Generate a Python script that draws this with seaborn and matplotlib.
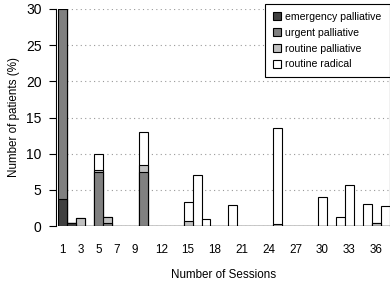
import numpy as np
import pandas as pd
import matplotlib
matplotlib.use("Agg")
import matplotlib.pyplot as plt
from matplotlib.patches import Patch
import seaborn as sns

sessions = list(range(1, 38))
emergency = [3.7, 0.4, 0, 0, 0, 0, 0, 0, 0, 0,
             0, 0, 0, 0, 0, 0, 0, 0, 0, 0,
             0, 0, 0, 0, 0, 0, 0, 0, 0, 0,
             0, 0, 0, 0, 0, 0, 0]
urgent = [26.3, 0, 0, 0, 7.5, 0.4, 0, 0, 0, 7.4,
          0, 0, 0, 0, 0, 0, 0, 0, 0, 0,
          0, 0, 0, 0, 0, 0, 0, 0, 0, 0,
          0, 0, 0, 0, 0, 0, 0]
routine_pall = [0, 0, 1.1, 0, 0.3, 0.9, 0, 0, 0, 1.1,
                0, 0, 0, 0, 0.7, 0, 0, 0, 0, 0,
                0, 0, 0, 0, 0.3, 0, 0, 0, 0, 0,
                0, 0, 0, 0, 0, 0.4, 0]
routine_rad = [0, 0, 0, 0, 2.1, 0, 0, 0, 0, 4.5,
               0, 0, 0, 0, 2.6, 7.1, 0.9, 0, 0, 2.9,
               0, 0, 0, 0, 13.2, 0, 0, 0, 0, 4.0,
               0, 1.2, 5.6, 0, 3.1, 0, 2.7]
series_names = ["emergency palliative", "urgent palliative",
                "routine palliative", "routine radical"]
colors = ["#404040", "#808080", "#c0c0c0", "#ffffff"]
shown_ticks = [1, 3, 5, 7, 9, 12, 15, 18, 21, 24, 27, 30, 33, 36]
y_ticks = [0, 5, 10, 15, 20, 25, 30]

plt.rcParams['font.family'] = ['Liberation Sans', 'DejaVu Sans']
FS = 8.4

df = pd.DataFrame({"session": sessions,
                   "e": emergency, "u": urgent,
                   "rp": routine_pall, "rr": routine_rad})
df["c1"] = df["e"]
df["c2"] = df["c1"] + df["u"]
df["c3"] = df["c2"] + df["rp"]
df["c4"] = df["c3"] + df["rr"]

W, H = 390, 284
fig = plt.figure(figsize=(W / 100, H / 100), dpi=100)
ax = fig.add_axes([58.3 / W, (H - 226) / H, 331.2 / W, 217 / H])

order = [str(s) for s in sessions]
df["s"] = df["session"].astype(str)
for col, c in zip(["c4", "c3", "c2", "c1"], colors[::-1]):
    sns.barplot(data=df, x="s", y=col, order=order, color=c, saturation=1,
                width=1.0, edgecolor="black", linewidth=0.8, errorbar=None,
                ax=ax, zorder=3)

ax.set_xlim(-0.5, len(sessions) - 0.5)
ax.set_ylim(0, 30)
ax.set_yticks(y_ticks)
ax.set_yticklabels([str(v) for v in y_ticks], rotation=90, va="center",
                   fontsize=FS)
ax.set_xticks([s - 1 for s in shown_ticks])
ax.set_xticklabels([str(s) for s in shown_ticks], fontsize=FS)
ax.tick_params(axis="x", length=0, pad=13)
ax.tick_params(axis="y", length=5, width=0.8, direction="out", pad=5)

for sp in ["top", "bottom"]:
    ax.spines[sp].set_visible(False)
ax.spines["left"].set_position(("outward", 2))
ax.spines["left"].set_bounds(0, 30)
ax.spines["left"].set_linewidth(0.8)
ax.spines["right"].set_linewidth(0.8)

ax.yaxis.grid(True, linestyle=(0, (1, 3)), color="#999999", linewidth=0.8)
ax.set_axisbelow(True)

ax.set_xlabel("Number of Sessions", fontsize=FS, labelpad=9)
ax.set_ylabel("Number of patients (%)", fontsize=FS, labelpad=4)

LFS = 7.6
handles = [Patch(facecolor=c, edgecolor="black", linewidth=0.8) for c in colors]
leg = fig.legend(handles, series_names, loc="upper right",
                 bbox_to_anchor=(389.5 / W, 1 - 4 / H),
                 bbox_transform=fig.transFigure, fontsize=LFS,
                 frameon=True, fancybox=False, framealpha=1,
                 edgecolor="black", handlelength=0.75, handleheight=0.75,
                 handletextpad=0.4, labelspacing=0.55, borderpad=0.75,
                 borderaxespad=0)
leg.get_frame().set_linewidth(0.8)

fig.savefig("out.png", dpi=100)
